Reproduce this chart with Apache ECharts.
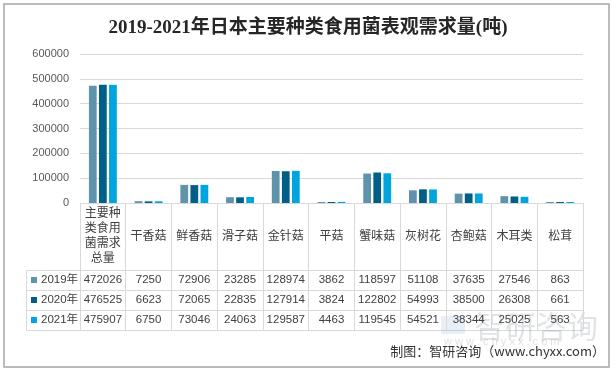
<!DOCTYPE html>
<html><head><meta charset="utf-8">
<script src="https://cdn.jsdelivr.net/npm/echarts@6/dist/echarts.min.js"></script>
<style>html,body{margin:0;padding:0;background:#fff}#c{width:616px;height:372px}</style>
</head><body><div id="c"></div>
<script>
// ---- data ----
const categories = ['主要种类食用菌需求总量','干香菇','鲜香菇','滑子菇','金针菇','平菇','蟹味菇','灰树花','杏鲍菇','木耳类','松茸'];
const seriesNames = ['2019年','2020年','2021年'];
const v2019 = [472026,7250,72906,23285,128974,3862,118597,51108,37635,27546,863];
const v2020 = [476525,6623,72065,22835,127914,3824,122802,54993,38500,26308,661];
const v2021 = [475907,6750,73046,24063,129587,4463,119545,54521,38344,25025,563];
const yMin = 0, yMax = 600000, yStep = 100000;
const titleText = '2019-2021年日本主要种类食用菌表观需求量(吨)';
const sourceText = '制图：智研咨询（www.chyxx.com）';

// ---- style / layout ----
const colors = ['#5E93AB','#005F86','#00A5DE'];
const allValues = [v2019, v2020, v2021];
const FONT = 'Liberation Sans, Noto Sans CJK SC, sans-serif';
const W = 616, H = 372;
const gridLeft = 80, gridRight = 33, gridTop = 54, gridBottom = 169;
const axisY = H - gridBottom;        // 203
const headerH = 67, rowH = 20;
const tableLeft = 26.5, tableRight = W - gridRight;
const lineColor = '#d9d9d9';
const textColor = '#404040';

const chart = echarts.init(document.getElementById('c'), null, {renderer: 'canvas'});

const xAxes = [{
  type: 'category',
  data: categories,
  position: 'bottom',
  axisLine: {show: true, lineStyle: {color: lineColor, width: 1}},
  axisTick: {show: true, length: headerH + rowH * 3, lineStyle: {color: lineColor}},
  axisLabel: {
    interval: 0, fontSize: 12, color: textColor, fontFamily: FONT,
    width: 40, overflow: 'break', lineHeight: 15,
    verticalAlign: 'middle', margin: headerH / 2
  }
}];
allValues.forEach((vals, i) => {
  xAxes.push({
    type: 'category',
    data: categories,
    position: 'bottom',
    offset: headerH + rowH * i + rowH / 2,
    axisLine: {show: false},
    axisTick: {show: false},
    splitLine: {show: false},
    axisLabel: {
      interval: 0, margin: 0, verticalAlign: 'middle',
      fontSize: 11.5, color: textColor, fontFamily: FONT,
      formatter: (v, idx) => String(vals[idx])
    }
  });
});

const graphics = [
  {type: 'rect', shape: {x: 4, y: 4, width: 605, height: 363},
   style: {fill: 'none', stroke: '#a6a6a6', lineWidth: 1.5}, silent: true},
  {type: 'line', shape: {x1: tableLeft, y1: axisY + headerH + 0.5, x2: tableRight, y2: axisY + headerH + 0.5},
   style: {stroke: lineColor, lineWidth: 1}},
  {type: 'line', shape: {x1: tableLeft, y1: axisY + headerH, x2: tableLeft, y2: axisY + headerH + rowH * 3},
   style: {stroke: lineColor, lineWidth: 1}}
];
for (let i = 1; i <= 3; i++) {
  const y = axisY + headerH + rowH * i + 0.5;
  graphics.push({type: 'line', shape: {x1: tableLeft, y1: y, x2: tableRight, y2: y},
    style: {stroke: lineColor, lineWidth: 1}});
}
// watermark
graphics.push({type: 'text', x: 474, y: 311, style: {text: '智研咨询', fontSize: 31, fontFamily: 'Noto Sans CJK SC', fill: 'rgba(120,130,140,0.22)'}, silent: true});
graphics.push({type: 'text', x: 444, y: 336, style: {text: 'w w w . c h y x x . c o m', fontSize: 11, fontFamily: FONT, fill: 'rgba(120,130,140,0.25)'}, silent: true});
graphics.push({type: 'rect', shape: {x: 441, y: 316, width: 24, height: 18}, style: {fill: 'rgba(90,140,200,0.14)'}, silent: true});
// source
graphics.push({type: 'text', right: 11, top: 345, style: {text: sourceText, fontSize: 13, fontFamily: 'Noto Sans CJK SC', fill: '#333'}});

chart.setOption({
  animation: false,
  color: colors,
  textStyle: {fontFamily: FONT},
  title: {
    text: titleText, left: 'center', top: 14,
    textStyle: {fontSize: 19, fontWeight: 'bold', color: '#262626', fontFamily: 'Liberation Serif, Noto Sans CJK SC, serif'}
  },
  legend: {
    data: seriesNames, orient: 'vertical', left: 31, top: axisY + headerH + 2, padding: 0,
    icon: 'rect', itemWidth: 6, itemHeight: 6, itemGap: 4,
    textStyle: {fontSize: 11.5, color: textColor, lineHeight: 14, fontFamily: FONT, padding: [2, 0, 0, -1]},
    selectedMode: false
  },
  grid: {left: gridLeft, right: gridRight, top: gridTop, bottom: gridBottom, containLabel: false},
  xAxis: xAxes,
  yAxis: {
    type: 'value', min: yMin, max: yMax, interval: yStep,
    axisLine: {show: false}, axisTick: {show: false},
    axisLabel: {color: '#595959', fontSize: 11, margin: 11, fontFamily: FONT, formatter: v => String(v)},
    splitLine: {lineStyle: {color: lineColor, width: 1}}
  },
  series: allValues.map((vals, i) => ({
    name: seriesNames[i], type: 'bar', data: vals,
    barCategoryGap: '39%', barGap: '30%', barMinHeight: 1,
    itemStyle: {color: colors[i]}
  })),
  graphic: graphics
});
</script></body></html>
